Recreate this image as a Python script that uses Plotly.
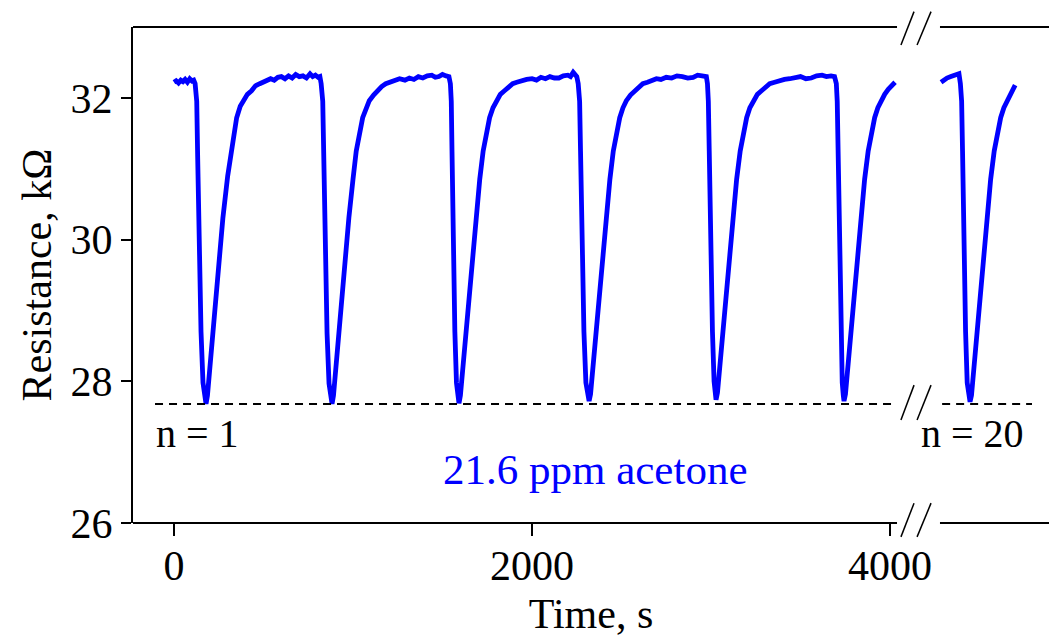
import plotly.graph_objects as go

# ---- data ----
# segment before the axis break (cycles n = 1 ... 6)
time_seg1 = [0, 12, 25, 38, 50, 62, 75, 88, 100, 110, 118,
             127, 132, 138, 144, 151, 162, 171, 179,
             187, 197, 212, 240, 256, 273, 300, 320, 350, 370, 387, 410, 433, 455, 479, 500, 520, 540, 560, 580,
             600, 620, 640, 660, 680, 700, 720, 740, 760, 775, 790, 805, 815,
             822, 831, 836, 842, 848, 855, 866, 875, 883,
             891, 901, 916, 944, 960, 977, 1000, 1018, 1054, 1072, 1091, 1115, 1137, 1160, 1183, 1205, 1230, 1260,
             1290, 1315, 1340, 1365, 1390, 1415, 1440, 1460, 1480, 1500, 1520, 1536,
             1544, 1549, 1553, 1558, 1563, 1569, 1578, 1586, 1592,
             1600, 1610, 1625, 1653, 1670, 1686, 1708, 1727, 1763, 1782, 1800, 1823, 1846, 1870, 1892, 1915, 1940,
             1970, 2000, 2025, 2050, 2075, 2100, 2125, 2150, 2175, 2200, 2215, 2230, 2250, 2258,
             2266, 2271, 2277, 2283, 2290, 2301, 2311, 2319,
             2327, 2337, 2352, 2380, 2397, 2413, 2435, 2454, 2490, 2508, 2527, 2550, 2573, 2596, 2619, 2645, 2670,
             2695, 2720, 2750, 2780, 2810, 2840, 2870, 2900, 2925, 2950, 2974,
             2980, 2985, 2990, 2995, 3001, 3008, 3017, 3023, 3028,
             3036, 3046, 3061, 3089, 3106, 3122, 3143, 3163, 3199, 3217, 3236, 3259, 3282, 3305, 3328, 3355, 3380,
             3410, 3440, 3470, 3500, 3530, 3560, 3590, 3620, 3645, 3670, 3690,
             3700, 3705, 3709, 3714, 3719, 3725, 3733, 3739, 3743,
             3751, 3761, 3776, 3804, 3821, 3837, 3858, 3878, 3914, 3932, 3951, 3970, 3990, 4010, 4028]
res_seg1 = [32.22, 32.24, 32.21, 32.25, 32.23, 32.26, 32.22, 32.27, 32.24, 32.25, 32.20,
            31.95, 31.20, 30.30, 29.40, 28.70, 27.98, 27.76, 27.68,
            27.80, 28.10, 28.50, 29.40, 29.90, 30.30, 30.90, 31.25, 31.72, 31.88, 31.96, 32.05, 32.10, 32.17, 32.20, 32.22, 32.24, 32.27, 32.25, 32.29,
            32.30, 32.27, 32.31, 32.28, 32.33, 32.30, 32.31, 32.28, 32.34, 32.30, 32.32, 32.29, 32.30,
            32.20, 31.95, 31.25, 30.30, 29.40, 28.68, 27.97, 27.75, 27.68,
            27.80, 28.10, 28.45, 29.38, 29.88, 30.31, 30.85, 31.25, 31.72, 31.86, 31.96, 32.04, 32.10, 32.16, 32.20, 32.22, 32.24, 32.27,
            32.25, 32.28, 32.26, 32.30, 32.28, 32.31, 32.32, 32.29, 32.30, 32.33, 32.31, 32.30,
            32.20, 31.95, 31.25, 30.30, 29.40, 28.70, 27.98, 27.76, 27.69,
            27.80, 28.10, 28.45, 29.38, 29.88, 30.31, 30.85, 31.25, 31.72, 31.86, 31.96, 32.05, 32.10, 32.15, 32.20, 32.22, 32.24,
            32.26, 32.27, 32.25, 32.29, 32.27, 32.30, 32.28, 32.28, 32.31, 32.32, 32.30, 32.36, 32.30, 32.20,
            31.95, 31.25, 30.30, 29.40, 28.70, 27.98, 27.78, 27.72,
            27.82, 28.10, 28.45, 29.38, 29.88, 30.31, 30.85, 31.25, 31.72, 31.86, 31.96, 32.04, 32.10, 32.16, 32.20, 32.22, 32.24,
            32.27, 32.26, 32.29, 32.28, 32.31, 32.30, 32.28, 32.29, 32.32, 32.31, 32.30,
            32.20, 31.95, 31.25, 30.30, 29.40, 28.70, 28.00, 27.82, 27.74,
            27.84, 28.12, 28.47, 29.38, 29.88, 30.31, 30.85, 31.25, 31.72, 31.86, 31.96, 32.05, 32.10, 32.16, 32.20, 32.22, 32.24,
            32.26, 32.27, 32.29, 32.30, 32.27, 32.28, 32.31, 32.32, 32.30, 32.31, 32.30,
            32.20, 31.95, 31.25, 30.30, 29.40, 28.70, 27.98, 27.80, 27.72,
            27.82, 28.10, 28.45, 29.38, 29.88, 30.31, 30.85, 31.25, 31.72, 31.86, 31.96, 32.05, 32.12, 32.18, 32.22]

# segment after the axis break (cycle n = 20)
time_seg2 = [4285, 4300, 4318, 4340, 4365, 4385, 4393, 4400, 4405, 4410, 4416, 4422, 4431, 4440, 4447,
             4455, 4465, 4480, 4508, 4525, 4541, 4562, 4582, 4618, 4636, 4655, 4678, 4699]
res_seg2 = [32.22, 32.25, 32.28, 32.30, 32.33, 32.34, 32.20, 31.95, 31.25, 30.30, 29.40, 28.70, 27.98, 27.78, 27.71,
            27.80, 28.10, 28.45, 29.38, 29.88, 30.31, 30.85, 31.25, 31.72, 31.86, 31.96, 32.08, 32.18]

baseline_min = 27.68                     # dashed reference level
dash_seg1_x = [-106, 4028]
dash_seg2_x = [4291, 4793]

x_ticks = [0, 2000, 4000]
y_ticks = [26, 28, 30, 32]
x_range = [-229, 4888]
y_range = [26, 33]
break_x = [4039, 4279]                   # gap in the frame (axis break)

FONT = "Liberation Serif, Times New Roman, serif"
BLUE = "#0000ff"

fig = go.Figure()
for xs, ys in [(time_seg1, res_seg1), (time_seg2, res_seg2)]:
    fig.add_trace(go.Scatter(x=xs, y=ys, mode="lines",
                             line=dict(color=BLUE, width=4.8, shape="linear"),
                             showlegend=False, hoverinfo="skip"))
for xs in [dash_seg1_x, dash_seg2_x]:
    fig.add_trace(go.Scatter(x=xs, y=[baseline_min, baseline_min], mode="lines",
                             line=dict(color="black", width=2, dash="8px,6px"),
                             showlegend=False, hoverinfo="skip"))

shapes = []
# frame: top and bottom lines with gaps at the axis break
for yp in [0, 1]:
    shapes.append(dict(type="line", xref="x", yref="paper", x0=x_range[0], x1=break_x[0],
                       y0=yp, y1=yp, line=dict(color="black", width=2)))
    shapes.append(dict(type="line", xref="x", yref="paper", x0=break_x[1], x1=x_range[1],
                       y0=yp, y1=yp, line=dict(color="black", width=2)))
# break marks "//"
for (ylo, yhi) in [(0.9637, 1.031), (-0.028, 0.040), (0.2077, 0.278)]:
    for (xa, xb) in [(4061, 4134), (4151, 4229)]:
        shapes.append(dict(type="line", xref="x", yref="paper", x0=xa, x1=xb,
                           y0=ylo, y1=yhi, line=dict(color="black", width=1.5)))

annotations = [
    dict(x=134, y=27.27, xref="x", yref="y", text="n = 1", showarrow=False,
         font=dict(family=FONT, size=40, color="black")),
    dict(x=4458, y=27.27, xref="x", yref="y", text="n = 20", showarrow=False,
         font=dict(family=FONT, size=40, color="black")),
    dict(x=2352, y=26.75, xref="x", yref="y", text="21.6 ppm acetone", showarrow=False,
         font=dict(family=FONT, size=43, color=BLUE)),
]

fig.update_layout(
    width=1049, height=639,
    margin=dict(l=133, r=0, t=27, b=116),
    paper_bgcolor="white", plot_bgcolor="white",
    font=dict(family=FONT, size=42, color="black"),
    shapes=shapes, annotations=annotations,
    xaxis=dict(range=x_range, tickvals=x_ticks, ticktext=[str(v) for v in x_ticks],
               showgrid=False, zeroline=False, showline=False,
               ticks="outside", ticklen=12, tickwidth=2, tickcolor="black",
               ticklabelstandoff=-6,
               tickfont=dict(family=FONT, size=42),
               title=dict(text="Time, s", font=dict(family=FONT, size=42), standoff=10)),
    yaxis=dict(range=y_range, tickvals=y_ticks, ticktext=[str(v) for v in y_ticks],
               showgrid=False, zeroline=False, showline=True, linecolor="black", linewidth=2,
               ticks="outside", ticklen=10, tickwidth=2, tickcolor="black",
               tickfont=dict(family=FONT, size=42),
               title=dict(text="Resistance, kΩ", font=dict(family=FONT, size=42), standoff=6)),
)

fig.write_html("out.html", config={"displayModeBar": False})
